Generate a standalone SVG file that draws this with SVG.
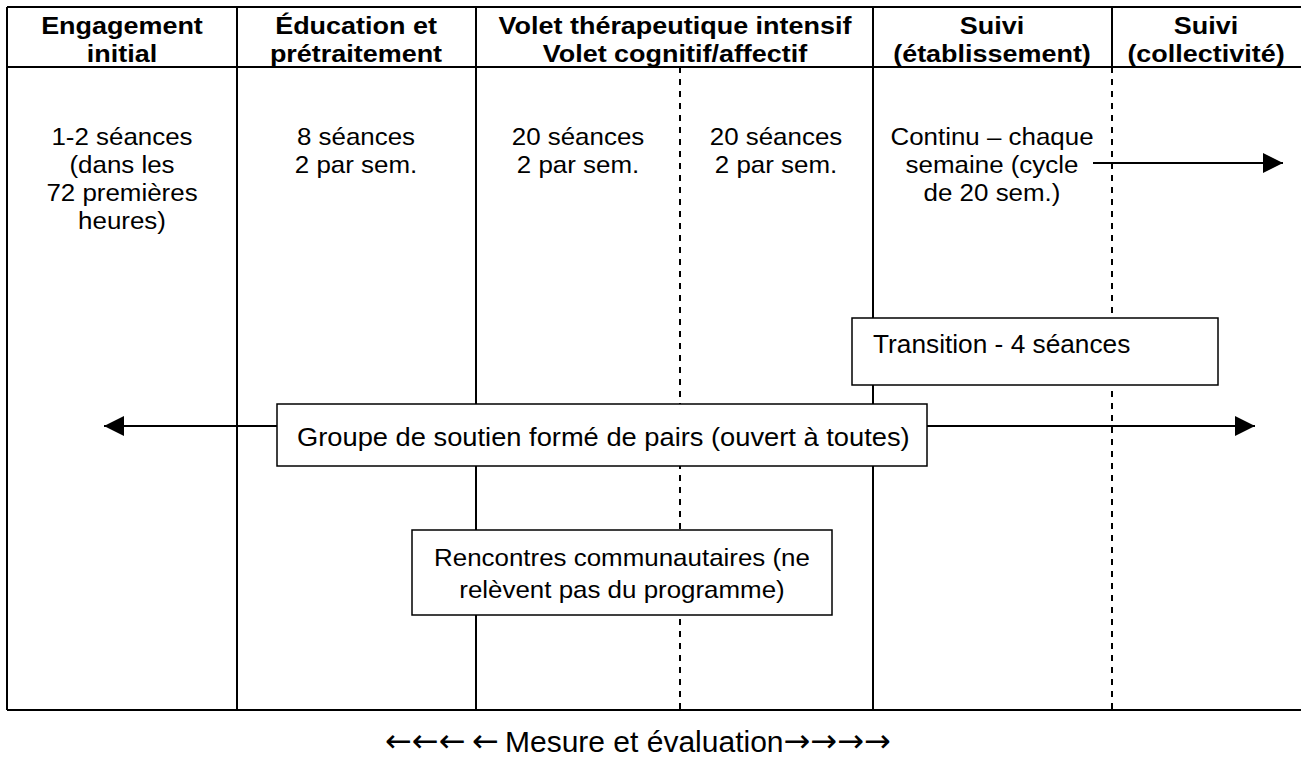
<svg xmlns="http://www.w3.org/2000/svg" width="1301" height="773" viewBox="0 0 1301 773">
<defs>
<style>
.h{font-family:"Liberation Sans",Arial,sans-serif;font-weight:bold;font-size:24.5px;text-anchor:middle;fill:#000}
.t{font-family:"Liberation Sans",Arial,sans-serif;font-size:24px;text-anchor:middle;fill:#000}
.tl{font-family:"Liberation Sans",Arial,sans-serif;font-size:26px;fill:#000}
.f{font-family:"Liberation Sans",Arial,sans-serif;font-size:30px;fill:#000}
.ar{font-family:"DejaVu Sans",sans-serif;font-size:32px}
.s{stroke:#000;stroke-width:2;fill:none}
.d{stroke:#000;stroke-width:2;stroke-dasharray:6,6;fill:none}
.b{stroke:#000;stroke-width:1.5;fill:#fff}
</style>
<marker id="ah" viewBox="0 0 10 10" refX="10" refY="5" markerWidth="20" markerHeight="20" markerUnits="userSpaceOnUse" orient="auto-start-reverse"><path d="M0,0 L10,5 L0,10 z" fill="#000"/></marker>
</defs>
<g id="grid">
<line class="s" x1="7" y1="7" x2="1301" y2="7" stroke-width="3"/>
<line class="s" x1="7" y1="7" x2="7" y2="710" stroke-width="3"/>
<line class="s" x1="7" y1="67" x2="1301" y2="67"/>
<line class="s" x1="7" y1="710" x2="1301" y2="710" stroke-width="3"/>
<line class="s" x1="237" y1="7" x2="237" y2="710"/>
<line class="s" x1="476" y1="7" x2="476" y2="710"/>
<line class="s" x1="873" y1="7" x2="873" y2="710"/>
<line class="s" x1="1112" y1="7" x2="1112" y2="67"/>
<line class="d" x1="680" y1="67" x2="680" y2="710"/>
<line class="d" x1="1112" y1="67" x2="1112" y2="710"/>
</g>
<g id="headers">
<text class="h" transform="translate(122,34) scale(1.1,1)">Engagement</text>
<text class="h" transform="translate(122,62) scale(1.1,1)">initial</text>
<text class="h" transform="translate(356,34) scale(1.1,1)">Éducation et</text>
<text class="h" transform="translate(356,62) scale(1.1,1)">prétraitement</text>
<text class="h" transform="translate(675,34) scale(1.1,1)">Volet thérapeutique intensif</text>
<text class="h" transform="translate(675,62) scale(1.1,1)">Volet cognitif/affectif</text>
<text class="h" transform="translate(992,34) scale(1.1,1)">Suivi</text>
<text class="h" transform="translate(992,62) scale(1.1,1)">(établissement)</text>
<text class="h" transform="translate(1206,34) scale(1.1,1)">Suivi</text>
<text class="h" transform="translate(1206,62) scale(1.1,1)">(collectivité)</text>
</g>
<g id="col1">
<text class="t" transform="translate(122,145) scale(1.08,1)">1-2 séances</text>
<text class="t" transform="translate(122,173) scale(1.08,1)">(dans les</text>
<text class="t" transform="translate(122,201) scale(1.08,1)">72 premières</text>
<text class="t" transform="translate(122,229) scale(1.08,1)">heures)</text>
</g>
<g id="col2">
<text class="t" transform="translate(356,145) scale(1.08,1)">8 séances</text>
<text class="t" transform="translate(356,173) scale(1.08,1)">2 par sem.</text>
</g>
<g id="col3a">
<text class="t" transform="translate(578,145) scale(1.08,1)">20 séances</text>
<text class="t" transform="translate(578,173) scale(1.08,1)">2 par sem.</text>
</g>
<g id="col3b">
<text class="t" transform="translate(776,145) scale(1.08,1)">20 séances</text>
<text class="t" transform="translate(776,173) scale(1.08,1)">2 par sem.</text>
</g>
<g id="col4">
<text class="t" transform="translate(992,145) scale(1.08,1)">Continu – chaque</text>
<text class="t" transform="translate(992,173) scale(1.08,1)">semaine (cycle</text>
<text class="t" transform="translate(992,201) scale(1.08,1)">de 20 sem.)</text>
</g>
<g id="connectors">
<line class="s" x1="1093" y1="163" x2="1283" y2="163" marker-end="url(#ah)"/>
<line class="s" x1="277" y1="426" x2="104" y2="426" marker-end="url(#ah)"/>
<line class="s" x1="927" y1="426" x2="1255" y2="426" marker-end="url(#ah)"/>
</g>
<g id="transition"><rect class="b" x="852" y="318" width="366" height="67"/><text class="tl" transform="translate(873,353) scale(1.01,1)">Transition - 4 séances</text></g>
<g id="groupe"><rect class="b" x="277" y="404" width="650" height="62"/><text class="tl" transform="translate(297,446) scale(1.05,1)">Groupe de soutien formé de pairs (ouvert à toutes)</text></g>
<g id="rencontres"><rect class="b" x="412" y="530" width="420" height="85"/>
<text class="t" transform="translate(622,566) scale(1.08,1)">Rencontres communautaires (ne</text>
<text class="t" transform="translate(622,598) scale(1.08,1)">relèvent pas du programme)</text></g>
<g id="footer"><text class="f" x="385" y="752"><tspan class="ar">←←←</tspan><tspan x="472" class="ar">←</tspan><tspan x="505">Mesure et évaluation</tspan><tspan class="ar">→→→→</tspan></text></g>
</svg>
